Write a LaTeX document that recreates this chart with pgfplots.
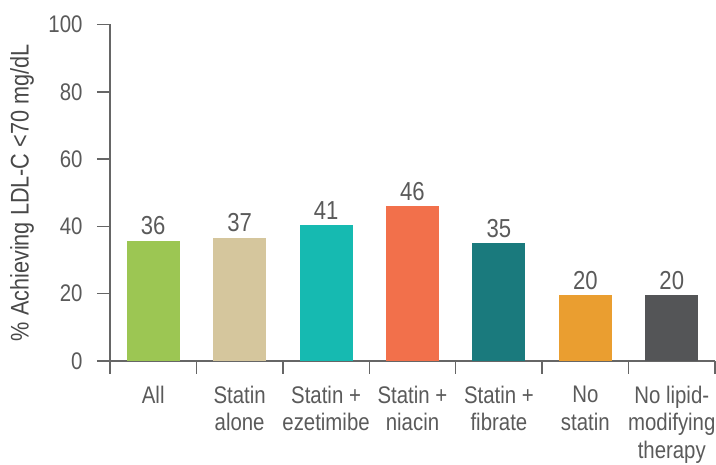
\documentclass[border=0pt]{standalone}
\usepackage{fontspec}
\setmainfont[FakeStretch=0.85]{Liberation Sans}
\usepackage{pgfplots}
\pgfplotsset{compat=1.18}
\definecolor{cAll}{HTML}{9CC653}
\definecolor{cAlone}{HTML}{D5C69D}
\definecolor{cEze}{HTML}{16BAB1}
\definecolor{cNia}{HTML}{F2704B}
\definecolor{cFib}{HTML}{1A7A7D}
\definecolor{cNo}{HTML}{EA9E30}
\definecolor{cNone}{HTML}{545557}
\definecolor{txt}{HTML}{5A5A5A}
\definecolor{axc}{HTML}{666666}
\pgfplotsset{mybar/.style={ybar, bar width=0.613, bar shift=0pt, draw=none,
  nodes near coords, point meta=explicit symbolic}}
\begin{document}
\begin{tikzpicture}
\path[use as bounding box] (-110pt,-104pt) rectangle (606pt,361pt);
\begin{axis}[
  at={(0,0)}, anchor=south west,
  scale only axis, width=605pt, height=336.5pt,
  xmin=-0.5, xmax=6.5, ymin=0, ymax=100,
  axis x line*=bottom, axis y line*=left,
  axis line style={axc, line width=1.5pt},
  every tick/.style={axc, line width=1.5pt},
  tick align=outside,
  major tick length=13pt,
  ytick={0,20,...,100},
  xtick={-0.5,0.5,...,6.5}, xticklabels={},
  extra x ticks={0,1,2,3,4,5,6},
  extra x tick labels={All,{Statin\\alone},{Statin +\\ezetimibe},{Statin +\\niacin},{Statin +\\fibrate},{No\\statin},{No lipid-\\modifying\\therapy}},
  extra x tick style={major tick length=0pt},
  xticklabel style={align=center, font=\fontsize{24}{27.5}\selectfont, text=txt, yshift=-21.5pt},
  yticklabel style={font=\fontsize{24}{28}\selectfont, text=txt, xshift=-11pt},
  /pgf/number format/assume math mode=true,
  ylabel={\% Achieving LDL-C <70 mg/dL},
  ylabel style={at={(axis description cs:-0.1455,0.5)}, anchor=center,
    font=\fontsize{25.5}{28}\selectfont, text=txt!80!black},
  every node near coord/.append style={font=\fontsize{26}{30}\selectfont, text=txt,
    inner sep=0pt, anchor=base, yshift=6pt},
  clip=false,
]
\addplot[mybar, fill=cAll]   coordinates {(0,35.7) [36]};
\addplot[mybar, fill=cAlone] coordinates {(1,36.6) [37]};
\addplot[mybar, fill=cEze]   coordinates {(2,40.3) [41]};
\addplot[mybar, fill=cNia]   coordinates {(3,46.0) [46]};
\addplot[mybar, fill=cFib]   coordinates {(4,35.0) [35]};
\addplot[mybar, fill=cNo]    coordinates {(5,19.5) [20]};
\addplot[mybar, fill=cNone]  coordinates {(6,19.5) [20]};
\end{axis}
\end{tikzpicture}
\end{document}
